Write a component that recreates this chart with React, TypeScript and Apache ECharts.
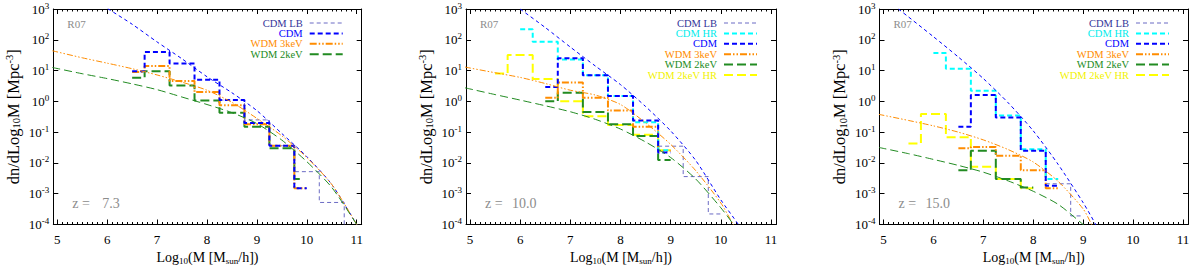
import React, { useEffect, useRef } from 'react';
import * as echarts from 'echarts';

const FONT = '"Liberation Serif", "Times New Roman", serif';

// ---------- axes ----------
const X_MIN = 4.92;
const X_MAX = 11.1;
const Y_MIN = 1e-4;
const Y_MAX = 1e3;
const X_MAJOR = [5, 6, 7, 8, 9, 10, 11];

const RUN_LABEL = 'R07';
const REDSHIFTS = ['7.3', '10.0', '15.0'];

// ---------- panel 1 : z = 7.3 ----------
const p1CdmCurveX = [5.9, 6.0, 6.5, 7.0, 7.5, 8.0, 8.5, 9.0, 9.5, 10.0, 10.5, 11.0, 11.1];
const p1CdmCurveY = [1300, 1050, 320, 85, 24, 6.3, 1.9, 0.5, 0.09, 0.016, 0.002, 1e-4, 5e-5];
const p1WdmCurveX = [4.9, 5.5, 6.0, 6.5, 7.0, 7.5, 8.0, 8.5, 9.0, 9.5, 10.0, 10.5, 11.0, 11.1];
const p1Wdm3CurveY = [44, 26, 17.4, 11.5, 7.2, 4.2, 2.3, 0.93, 0.28, 0.076, 0.015, 0.002, 1e-4, 5e-5];
const p1Wdm2CurveY = [12.6, 7.9, 5.5, 3.7, 2.4, 1.38, 0.79, 0.43, 0.19, 0.055, 0.011, 0.0016, 1e-4, 5e-5];

const p1CdmLbEdges = [8.25, 8.75, 9.25, 9.75, 10.25, 10.75, 11.25];
const p1CdmLbVals = [1.1, 0.25, 0.036, 0.0052, 0.00052, 1e-6];
const p1CdmEdges = [6.5, 6.75, 7.25, 7.75, 8.25, 8.75, 9.25, 9.75, 10.0];
const p1CdmVals = [9.5, 40, 17, 5, 1.1, 0.2, 0.036, 0.0015];
const p1Wdm3Edges = [6.5, 6.75, 7.25, 7.75, 8.25, 8.75, 9.25, 9.75, 10.0];
const p1Wdm3Vals = [9, 14, 4.6, 2.0, 0.75, 0.18, 0.036, 0.0015];
const p1Wdm2Edges = [6.5, 6.75, 7.25, 7.75, 8.25, 8.75, 9.25, 9.75, 9.9];
const p1Wdm2Vals = [5.8, 9.5, 3.3, 1.07, 0.43, 0.15, 0.03, 0.003];

// ---------- panel 2 : z = 10.0 ----------
const p2CdmCurveX = [5.9, 6.0, 6.5, 7.0, 7.5, 8.0, 8.5, 9.0, 9.5, 10.0, 10.35, 10.5];
const p2CdmCurveY = [1350, 1000, 250, 58, 14, 3.5, 0.68, 0.11, 0.012, 6.3e-4, 1e-4, 4e-5];
const p2WdmCurveX = [4.9, 5.5, 6.0, 6.5, 7.0, 7.5, 8.0, 8.5, 9.0, 9.5, 10.0, 10.25, 10.5];
const p2Wdm3CurveY = [13, 8.5, 6.0, 3.8, 2.3, 1.6, 0.79, 0.2, 0.04, 0.0056, 5e-4, 1e-4, 2.5e-5];
const p2Wdm2CurveY = [2.75, 1.66, 1.1, 0.72, 0.46, 0.26, 0.126, 0.048, 0.015, 0.003, 3.5e-4, 1e-4, 2e-5];

const p2CdmLbEdges = [8.75, 9.25, 9.75, 10.0];
const p2CdmLbVals = [0.035, 0.0036, 0.00022];
const p2CdmHrEdges = [6.0, 6.25, 6.75, 7.25, 7.75, 8.25, 8.75, 9.0];
const p2CdmHrVals = [220, 86, 23, 7, 1.5, 0.21, 0.026];
const p2CdmEdges = [6.5, 6.75, 7.25, 7.75, 8.25, 8.75, 9.0];
const p2CdmVals = [2.9, 25, 7, 1.5, 0.24, 0.022];
const p2Wdm3Edges = [6.5, 6.75, 7.25, 7.75, 8.25, 8.75, 9.0];
const p2Wdm3Vals = [1.3, 4.1, 1.3, 0.5, 0.15, 0.025];
const p2Wdm2Edges = [6.5, 6.75, 7.25, 7.75, 8.25, 8.75, 9.0];
const p2Wdm2Vals = [1.0, 1.9, 0.45, 0.18, 0.075, 0.0125];
const p2Wdm2HrEdges = [5.5, 5.75, 6.25, 6.75, 7.25, 7.75, 8.25, 8.75, 9.0];
const p2Wdm2HrVals = [8, 32, 5.3, 1.0, 0.33, 0.17, 0.083, 0.026];

// ---------- panel 3 : z = 15.0 ----------
const p3CdmCurveX = [5.2, 5.3, 6.0, 6.5, 7.0, 7.5, 8.0, 8.5, 9.0, 9.25, 9.4];
const p3CdmCurveY = [1350, 1000, 126, 27.5, 5.5, 0.89, 0.11, 0.0089, 5.1e-4, 1e-4, 3e-5];
const p3Wdm3CurveX = [4.9, 5.5, 6.0, 6.5, 7.0, 7.5, 8.0, 8.5, 9.0, 9.17, 9.3];
const p3Wdm3CurveY = [0.38, 0.24, 0.16, 0.1, 0.056, 0.027, 0.0107, 0.0025, 3.2e-4, 1e-4, 4e-5];
const p3Wdm2CurveX = [4.9, 5.5, 6.0, 6.5, 7.0, 7.5, 8.0, 8.5, 9.0, 9.2];
const p3Wdm2CurveY = [0.032, 0.02, 0.013, 0.0083, 0.005, 0.0026, 0.0012, 4.5e-4, 1e-4, 5e-5];

const p3CdmLbEdges = [8.25, 8.75, 9.0];
const p3CdmLbVals = [0.0021, 0.00019];
const p3CdmHrEdges = [6.0, 6.25, 6.75, 7.25, 7.75, 8.25, 8.5];
const p3CdmHrVals = [37, 11.5, 2.2, 0.35, 0.028, 0.003];
const p3CdmEdges = [6.5, 6.75, 7.25, 7.75, 8.25, 8.5];
const p3CdmVals = [0.15, 1.6, 0.3, 0.025, 0.0018];
const p3Wdm3Edges = [6.5, 6.75, 7.25, 7.75, 8.25, 8.5];
const p3Wdm3Vals = [0.03, 0.033, 0.017, 0.0058, 0.0015];
const p3Wdm2Edges = [6.5, 6.75, 7.25, 7.75, 8.0];
const p3Wdm2Vals = [0.0058, 0.025, 0.003, 0.0016];
const p3Wdm2HrEdges = [5.5, 5.75, 6.25, 6.75, 7.25, 7.75, 8.0];
const p3Wdm2HrVals = [0.043, 0.39, 0.068, 0.0075, 0.003, 0.0015];

const LEGEND_P1 = ['CDM LB', 'CDM', 'WDM 3keV', 'WDM 2keV'];
const LEGEND_P23 = ['CDM LB', 'CDM HR', 'CDM', 'WDM 3keV', 'WDM 2keV', 'WDM 2keV HR'];

// ---------- styles ----------
const STY: Record<string, { color: string; text: string; width: number; dash: number[] }> = {
  'CDM LB': { color: '#6b6bc4', text: '#333399', width: 1, dash: [4, 3] },
  'CDM HR': { color: '#00ffff', text: '#00ecec', width: 2, dash: [5, 3] },
  CDM: { color: '#0000ff', text: '#0000ff', width: 2, dash: [5, 3] },
  'WDM 3keV': { color: '#ff8c00', text: '#ff8c00', width: 2, dash: [7, 2, 1.5, 2, 1.5, 2] },
  'WDM 2keV': { color: '#228b22', text: '#228b22', width: 2, dash: [9, 4] },
  'WDM 2keV HR': { color: '#ffff00', text: '#f2f200', width: 2, dash: [9, 4] },
};
const CURVE_STY: Record<string, { color: string; width: number; dash: number[] }> = {
  CDM: { color: '#0000ff', width: 1, dash: [3.5, 3] },
  WDM3: { color: '#ff8c00', width: 1, dash: [6, 2, 1.5, 2, 1.5, 2] },
  WDM2: { color: '#228b22', width: 1, dash: [8, 4] },
};

const GRIDS = [
  { left: 53.3, width: 308.4 },
  { left: 466, width: 310 },
  { left: 879.5, width: 308.5 },
];
const GRID_TOP = 9;
const GRID_H = 215.5;
const Z_RIGHT = [66.5, 70.5, 70.5];
const LEG_TOP = 23;
const LEG_STEP = 10.4;

function stepPoints(edges: number[], vals: number[]) {
  const pts: number[][] = [];
  vals.forEach((v, i) => {
    pts.push([edges[i], v]);
    pts.push([edges[i + 1], v]);
  });
  return pts;
}

function histSeries(p: number, name: string, edges: number[], vals: number[]) {
  const s = STY[name];
  return {
    type: 'line',
    name,
    xAxisIndex: p * 4,
    yAxisIndex: p * 2,
    data: stepPoints(edges, vals),
    symbol: 'none',
    showSymbol: false,
    silent: true,
    z: 3,
    lineStyle: { color: s.color, width: s.width, type: s.dash, cap: 'butt' },
  };
}

function curveSeries(p: number, key: string, xs: number[], ys: number[]) {
  const s = CURVE_STY[key];
  return {
    type: 'line',
    xAxisIndex: p * 4,
    yAxisIndex: p * 2,
    data: xs.map((x, i) => [x, ys[i]]),
    symbol: 'none',
    showSymbol: false,
    smooth: 0.25,
    silent: true,
    z: 4,
    lineStyle: { color: s.color, width: s.width, type: s.dash, cap: 'butt' },
  };
}

const MINOR_X: number[] = [];
for (let k = 51; k < 110; k++) {
  if (k % 10 !== 0) MINOR_X.push(k / 10);
}

function buildOption() {
  const grid = GRIDS.map((g) => ({
    left: g.left,
    width: g.width,
    top: GRID_TOP,
    height: GRID_H,
    containLabel: false,
    outerBoundsMode: 'none',
  }));

  const xAxis: any[] = [];
  const yAxis: any[] = [];
  const frame = { show: true, lineStyle: { color: '#000', width: 1 } };
  const tickStyle = { color: '#000', width: 1 };

  GRIDS.forEach((_, p) => {
    const common = { type: 'value', gridIndex: p, min: X_MIN, max: X_MAX, splitLine: { show: false } };
    xAxis.push({
      ...common,
      position: 'bottom',
      axisLine: frame,
      axisTick: { show: true, inside: true, length: 5, customValues: X_MAJOR, lineStyle: tickStyle },
      axisLabel: { show: true, customValues: X_MAJOR, margin: 8, fontFamily: FONT, fontSize: 13, color: '#000' },
      name: '{a|Log}{s|10}{a|(M [M}{s|sun}{a|/h])}',
      nameLocation: 'middle',
      nameGap: 22,
      nameTextStyle: {
        rich: {
          a: { fontFamily: FONT, fontSize: 14, color: '#000', lineHeight: 16 },
          s: { fontFamily: FONT, fontSize: 9, color: '#000', lineHeight: 8, verticalAlign: 'bottom' },
        },
      },
    });
    xAxis.push({
      ...common,
      position: 'bottom',
      axisLine: { show: false },
      axisTick: { show: true, inside: true, length: 2.5, customValues: MINOR_X, lineStyle: tickStyle },
      axisLabel: { show: false },
    });
    xAxis.push({
      ...common,
      position: 'top',
      axisLine: frame,
      axisTick: { show: true, inside: true, length: 5, customValues: X_MAJOR, lineStyle: tickStyle },
      axisLabel: { show: false },
    });
    xAxis.push({
      ...common,
      position: 'top',
      axisLine: { show: false },
      axisTick: { show: true, inside: true, length: 2.5, customValues: MINOR_X, lineStyle: tickStyle },
      axisLabel: { show: false },
    });

    const ycommon = {
      type: 'log',
      logBase: 10,
      gridIndex: p,
      min: Y_MIN,
      max: Y_MAX,
      splitNumber: 7,
      splitLine: { show: false },
      axisLine: frame,
      axisTick: { show: true, inside: true, length: 5, lineStyle: tickStyle },
    };
    yAxis.push({
      ...ycommon,
      position: 'left',
      axisLabel: {
        show: true,
        margin: 4,
        formatter: (v: number) => `{b|10}{s|${Math.round(Math.log10(v))}}`,
        rich: {
          b: { fontFamily: FONT, fontSize: 13, color: '#000', lineHeight: 16 },
          s: { fontFamily: FONT, fontSize: 9, color: '#000', lineHeight: 8, verticalAlign: 'top' },
        },
      },
      name: '{a|dn/dLog}{s|10}{a|M [Mpc}{p|-3}{a|]}',
      nameLocation: 'middle',
      nameGap: 31,
      nameRotate: 90,
      nameTextStyle: {
        rich: {
          a: { fontFamily: FONT, fontSize: 16.5, color: '#000', lineHeight: 18 },
          s: { fontFamily: FONT, fontSize: 10.5, color: '#000', lineHeight: 9, verticalAlign: 'bottom' },
          p: { fontFamily: FONT, fontSize: 10.5, color: '#000', lineHeight: 9, verticalAlign: 'top' },
        },
      },
    });
    yAxis.push({ ...ycommon, position: 'right', axisLabel: { show: false } });
  });

  const series: any[] = [
    // panel 1
    histSeries(0, 'CDM LB', p1CdmLbEdges, p1CdmLbVals),
    histSeries(0, 'WDM 2keV', p1Wdm2Edges, p1Wdm2Vals),
    histSeries(0, 'WDM 3keV', p1Wdm3Edges, p1Wdm3Vals),
    histSeries(0, 'CDM', p1CdmEdges, p1CdmVals),
    curveSeries(0, 'CDM', p1CdmCurveX, p1CdmCurveY),
    curveSeries(0, 'WDM3', p1WdmCurveX, p1Wdm3CurveY),
    curveSeries(0, 'WDM2', p1WdmCurveX, p1Wdm2CurveY),
    // panel 2
    histSeries(1, 'CDM LB', p2CdmLbEdges, p2CdmLbVals),
    histSeries(1, 'WDM 2keV HR', p2Wdm2HrEdges, p2Wdm2HrVals),
    histSeries(1, 'WDM 2keV', p2Wdm2Edges, p2Wdm2Vals),
    histSeries(1, 'WDM 3keV', p2Wdm3Edges, p2Wdm3Vals),
    histSeries(1, 'CDM HR', p2CdmHrEdges, p2CdmHrVals),
    histSeries(1, 'CDM', p2CdmEdges, p2CdmVals),
    curveSeries(1, 'CDM', p2CdmCurveX, p2CdmCurveY),
    curveSeries(1, 'WDM3', p2WdmCurveX, p2Wdm3CurveY),
    curveSeries(1, 'WDM2', p2WdmCurveX, p2Wdm2CurveY),
    // panel 3
    histSeries(2, 'CDM LB', p3CdmLbEdges, p3CdmLbVals),
    histSeries(2, 'WDM 2keV HR', p3Wdm2HrEdges, p3Wdm2HrVals),
    histSeries(2, 'WDM 2keV', p3Wdm2Edges, p3Wdm2Vals),
    histSeries(2, 'WDM 3keV', p3Wdm3Edges, p3Wdm3Vals),
    histSeries(2, 'CDM HR', p3CdmHrEdges, p3CdmHrVals),
    histSeries(2, 'CDM', p3CdmEdges, p3CdmVals),
    curveSeries(2, 'CDM', p3CdmCurveX, p3CdmCurveY),
    curveSeries(2, 'WDM3', p3Wdm3CurveX, p3Wdm3CurveY),
    curveSeries(2, 'WDM2', p3Wdm2CurveX, p3Wdm2CurveY),
  ];

  const graphic: any[] = [];
  GRIDS.forEach((g, p) => {
    const right = g.left + g.width;
    graphic.push({
      type: 'text',
      x: g.left + 14,
      y: 23.5,
      style: { text: RUN_LABEL, fill: '#8c8c8c', font: `11px ${FONT}`, textAlign: 'left', textVerticalAlign: 'middle' },
    });
    graphic.push({
      type: 'text',
      x: g.left + 19,
      y: 203,
      style: { text: 'z =', fill: '#8c8c8c', font: `14px ${FONT}`, textAlign: 'left', textVerticalAlign: 'middle' },
    });
    graphic.push({
      type: 'text',
      x: g.left + Z_RIGHT[p],
      y: 203,
      style: { text: REDSHIFTS[p], fill: '#8c8c8c', font: `14px ${FONT}`, textAlign: 'right', textVerticalAlign: 'middle' },
    });
    const names = p === 0 ? LEGEND_P1 : LEGEND_P23;
    names.forEach((n, i) => {
      const s = STY[n];
      const y = LEG_TOP + LEG_STEP * i;
      graphic.push({
        type: 'text',
        x: right - 59,
        y,
        style: {
          text: n,
          fill: s.text,
          font: `10.5px ${FONT}`,
          textAlign: 'right',
          textVerticalAlign: 'middle',
        },
      });
      graphic.push({
        type: 'line',
        shape: { x1: right - 52, y1: y, x2: right - 19, y2: y },
        style: { stroke: s.color, lineWidth: s.width, lineDash: s.dash },
      });
    });
  });

  return {
    animation: false,
    backgroundColor: '#ffffff',
    grid,
    xAxis,
    yAxis,
    series,
    graphic,
  };
}

export default function App() {
  const ref = useRef<HTMLDivElement>(null);
  useEffect(() => {
    const chart = echarts.init(ref.current as HTMLDivElement, null, { renderer: 'svg' });
    chart.setOption(buildOption() as any);
    return () => chart.dispose();
  }, []);
  return (
    <div
      ref={ref}
      style={{ position: 'fixed', left: 0, top: 0, width: 1200, height: 266, background: '#fff' }}
    />
  );
}
